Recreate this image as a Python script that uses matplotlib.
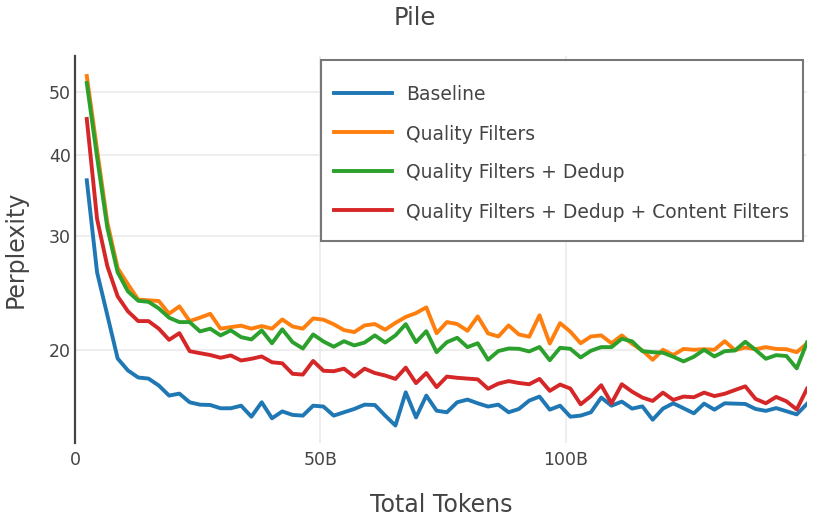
import numpy as np
import matplotlib
matplotlib.use('Agg')
import matplotlib.pyplot as plt
from matplotlib.ticker import FixedLocator, NullLocator
from matplotlib.lines import Line2D
from matplotlib.patches import Rectangle

# checkpoints (billions of tokens), evenly spaced
tokens = np.linspace(2.4, 149.1, 71)

baseline = [36.6, 26.4, 22.66, 19.44, 18.63, 18.17, 18.10, 17.66, 17.04, 17.16,
            16.64, 16.50, 16.48, 16.29, 16.29, 16.44, 15.81, 16.64, 15.72, 16.11,
            15.91, 15.87, 16.44, 16.39, 15.87, 16.06, 16.25, 16.50, 16.48, 15.87,
            15.32, 17.24, 15.77, 17.04, 16.15, 16.06, 16.64, 16.80, 16.58, 16.39,
            16.50, 16.06, 16.25, 16.74, 16.98, 16.21, 16.44, 15.81, 15.87, 16.06,
            16.92, 16.44, 16.68, 16.27, 16.40, 15.64, 16.27, 16.58, 16.29, 16.00,
            16.56, 16.21, 16.58, 16.56, 16.54, 16.25, 16.14, 16.30, 16.12, 15.94,
            16.55]

quality = [53.0, 40.8, 31.5, 26.8, 25.3, 23.96, 23.90, 23.84, 22.79, 23.39,
           22.20, 22.47, 22.78, 21.61, 21.73, 21.84, 21.61, 21.81, 21.61, 22.33,
           21.78, 21.61, 22.41, 22.31, 21.95, 21.50, 21.35, 21.86, 21.97, 21.53,
           22.06, 22.53, 22.84, 23.31, 21.26, 22.12, 21.97, 21.45, 22.57, 21.25,
           21.02, 21.86, 21.17, 21.00, 22.66, 20.50, 22.04, 21.38, 20.52, 21.02,
           21.10, 20.52, 21.10, 20.48, 20.00, 19.35, 20.05, 19.68, 20.11, 20.05,
           20.09, 20.05, 20.67, 20.02, 20.21, 20.09, 20.24, 20.11, 20.09, 19.88,
           20.50]

dedup = [51.7, 39.75, 30.9, 26.4, 24.67, 23.86, 23.77, 23.22, 22.47, 22.12,
         22.12, 21.40, 21.61, 21.10, 21.48, 20.97, 20.80, 21.48, 20.52, 21.56,
         20.60, 20.14, 21.17, 20.65, 20.27, 20.67, 20.36, 20.57, 21.10, 20.57,
         21.10, 21.96, 20.60, 21.42, 19.88, 20.60, 20.92, 20.24, 20.52, 19.35,
         19.96, 20.14, 20.12, 19.93, 20.25, 19.32, 20.19, 20.12, 19.51, 19.98,
         20.24, 20.24, 20.85, 20.66, 19.95, 19.88, 19.84, 19.56, 19.24, 19.56,
         20.05, 19.58, 19.95, 20.00, 20.63, 20.04, 19.42, 19.67, 19.61, 18.77,
         20.58]

content = [45.5, 31.9, 26.97, 24.24, 22.98, 22.20, 22.20, 21.61, 20.77, 21.27,
           19.95, 19.81, 19.68, 19.49, 19.65, 19.30, 19.42, 19.58, 19.18, 19.11,
           18.41, 18.36, 19.27, 18.61, 18.58, 18.75, 18.23, 18.75, 18.46, 18.30,
           18.08, 18.82, 17.81, 18.46, 17.56, 18.23, 18.15, 18.10, 18.05, 17.46,
           17.78, 17.94, 17.82, 17.74, 18.08, 17.33, 17.72, 17.47, 16.52, 17.01,
           17.68, 16.58, 17.74, 17.28, 16.92, 16.72, 17.22, 16.78, 16.98, 16.94,
           17.22, 17.01, 17.15, 17.38, 17.61, 16.84, 16.58, 16.96, 16.70, 16.22,
           17.46]

series = [
    ('Baseline', baseline, '#1f77b4'),
    ('Quality Filters', quality, '#ff7f0e'),
    ('Quality Filters + Dedup', dedup, '#2ca02c'),
    ('Quality Filters + Dedup + Content Filters', content, '#d62728'),
]

text_col = '#444444'
plt.rcParams['font.family'] = ['DejaVu Sans']

W, H = 830, 520
fig = plt.figure(figsize=(8.3, 5.2), dpi=100)
ax = fig.add_axes([75 / W, 1 - 443 / H, (807 - 75) / W, (443 - 56) / H])

for name, vals, col in series:
    ax.plot(tokens, vals, color=col, lw=2.8, label=name)

ax.set_yscale('log')
ax.set_ylim(14.4, 56.9)
ax.set_xlim(0, 149.1)

ax.yaxis.set_major_locator(FixedLocator([20, 30, 40, 50]))
ax.yaxis.set_minor_locator(NullLocator())
ax.set_yticklabels(['20', '30', '40', '50'])
ax.set_xticks([0, 50, 100])
ax.set_xticklabels(['0', '50B', '100B'])

ax.tick_params(axis='both', length=0, labelsize=12.5, colors=text_col)
ax.tick_params(axis='y', pad=3)
ax.tick_params(axis='x', pad=6)
ax.grid(True, color='#ebebeb', lw=1.2)
ax.set_axisbelow(True)

for s in ['top', 'right', 'bottom']:
    ax.spines[s].set_visible(False)
ax.spines['left'].set_color(text_col)
ax.spines['left'].set_linewidth(1.6)

fig.text(0.5, 1 - 18 / H, 'Pile', ha='center', va='center', fontsize=17.5, color=text_col)
fig.text(441 / W, 1 - 505 / H, 'Total Tokens', ha='center', va='center',
         fontsize=17, color=text_col)
fig.text(16 / W, 1 - 249 / H, 'Perplexity', ha='center', va='center',
         rotation=90, fontsize=17, color=text_col)

# legend box drawn by hand to match the spacing of the original
fig.add_artist(Rectangle((321 / W, 1 - 241 / H), (803 - 321) / W, (241 - 60) / H,
                         transform=fig.transFigure, facecolor='white',
                         edgecolor='#777777', lw=1.5, zorder=5))
for k, (name, vals, col) in enumerate(series):
    yy = 1 - (93 + 39 * k) / H
    fig.add_artist(Line2D([334 / W, 392 / W], [yy, yy], transform=fig.transFigure,
                          color=col, lw=2.8, zorder=6))
    fig.text(406 / W, yy, name, ha='left', va='center_baseline', fontsize=13.5,
             color=text_col, zorder=6)

fig.savefig('out.png', dpi=100)
